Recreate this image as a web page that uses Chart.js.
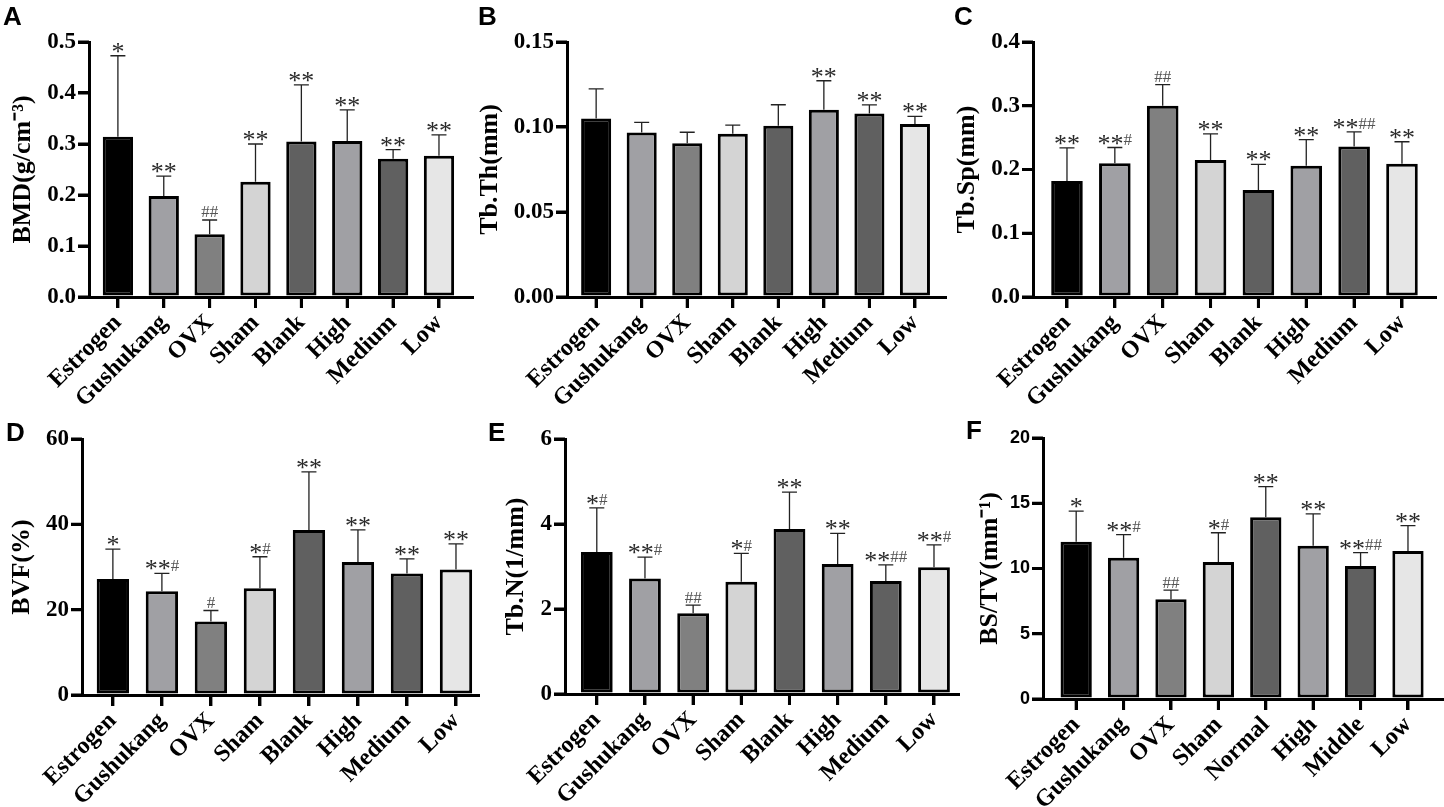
<!DOCTYPE html>
<html lang="en">
<head>
    <meta charset="UTF-8">
    <title>Micro-CT bone parameters</title>
    <script src="https://cdn.jsdelivr.net/npm/chart.js"></script>
    <style>
        * {
            margin: 0;
            padding: 0;
            box-sizing: border-box;
        }
        body {
            width: 1444px;
            height: 807px;
            background: #fff;
            position: relative;
            overflow: hidden;
        }
        .panel {
            position: absolute;
        }
        .letter {
            position: absolute;
            font-family: 'Liberation Sans', Arial, sans-serif;
            font-weight: bold;
            font-size: 26px;
            line-height: 1;
            color: #000;
            z-index: 2;
        }
    </style>
</head>
<body>
    <div class="letter" style="left:3px;top:3px">A</div>
    <div class="letter" style="left:478px;top:3px">B</div>
    <div class="letter" style="left:954px;top:3px">C</div>
    <div class="letter" style="left:6px;top:419px">D</div>
    <div class="letter" style="left:488px;top:419px">E</div>
    <div class="letter" style="left:966px;top:417px">F</div>

    <div class="panel" style="left:0;top:0;width:480px;height:410px"><canvas id="chartA"></canvas></div>
    <div class="panel" style="left:470px;top:0;width:480px;height:410px"><canvas id="chartB"></canvas></div>
    <div class="panel" style="left:950px;top:0;width:494px;height:410px"><canvas id="chartC"></canvas></div>
    <div class="panel" style="left:0;top:400px;width:480px;height:407px"><canvas id="chartD"></canvas></div>
    <div class="panel" style="left:470px;top:400px;width:490px;height:407px"><canvas id="chartE"></canvas></div>
    <div class="panel" style="left:950px;top:400px;width:494px;height:407px"><canvas id="chartF"></canvas></div>

    <script>
        // Группы
        const groups = ['Estrogen', 'Gushukang', 'OVX', 'Sham', 'Blank', 'High', 'Medium', 'Low'];
        const groupsF = ['Estrogen', 'Gushukang', 'OVX', 'Sham', 'Normal', 'High', 'Middle', 'Low'];

        // A - BMD
        const bmd = [0.314, 0.198, 0.123, 0.226, 0.305, 0.306, 0.271, 0.277];
        const bmdErr = [0.159, 0.039, 0.028, 0.074, 0.111, 0.061, 0.018, 0.041];
        const bmdNotes = ['*', '**', '##', '**', '**', '**', '**', '**'];
        const bmdTicks = [0, 0.1, 0.2, 0.3, 0.4, 0.5];

        // B - Tb.Th
        const tbTh = [0.105, 0.0967, 0.0904, 0.0961, 0.1008, 0.1102, 0.1080, 0.1018];
        const tbThErr = [0.0174, 0.006, 0.0065, 0.005, 0.0123, 0.017, 0.005, 0.0045];
        const tbThNotes = ['', '', '', '', '', '**', '**', '**'];
        const tbThTicks = [0, 0.05, 0.10, 0.15];

        // C - Tb.Sp
        const tbSp = [0.182, 0.210, 0.300, 0.215, 0.168, 0.206, 0.236, 0.209];
        const tbSpErr = [0.052, 0.0245, 0.033, 0.041, 0.040, 0.041, 0.023, 0.0345];
        const tbSpNotes = ['**', '**#', '##', '**', '**', '**', '**##', '**'];
        const tbSpTicks = [0, 0.1, 0.2, 0.3, 0.4];

        // D - BVF
        const bvf = [27.2, 24.3, 17.2, 25.0, 38.7, 31.2, 28.5, 29.4];
        const bvfErr = [7.0, 4.2, 2.6, 7.4, 13.6, 7.5, 3.4, 6.0];
        const bvfNotes = ['*', '**#', '#', '*#', '**', '**', '**', '**'];
        const bvfTicks = [0, 20, 40, 60];

        // E - Tb.N
        const tbN = [3.34, 2.72, 1.90, 2.64, 3.88, 3.06, 2.66, 2.98];
        const tbNErr = [1.04, 0.50, 0.19, 0.67, 0.87, 0.72, 0.38, 0.53];
        const tbNNotes = ['*#', '**#', '##', '*#', '**', '**', '**##', '**#'];
        const tbNTicks = [0, 2, 4, 6];

        // F - BS/TV
        const bsTv = [12.05, 10.83, 7.64, 10.5, 13.92, 11.75, 10.19, 11.34];
        const bsTvErr = [2.35, 1.77, 0.71, 2.24, 2.35, 2.43, 1.02, 1.94];
        const bsTvNotes = ['*', '**#', '##', '*#', '**', '**', '**##', '**'];
        const bsTvTicks = [0, 5, 10, 15, 20];

        const fills = ['#000000', '#a0a0a4', '#808080', '#d4d4d4', '#606060', '#a0a0a4', '#606060', '#e6e6e6'];
        const SERIF = "'Liberation Serif', 'Times New Roman', serif";
        const SANS = "'Liberation Sans', Arial, sans-serif";
        const TICK_LEN = 11;

        // Засечки осей
        function drawAxisTicks(chart) {
            const xs = chart.scales.x;
            const ys = chart.scales.y;
            const ctx = chart.ctx;
            ctx.save();
            ctx.strokeStyle = '#000';
            ctx.lineWidth = 3;
            ctx.lineCap = 'butt';
            ctx.beginPath();
            for (let i = 0; i < xs.ticks.length; i++) {
                const px = xs.getPixelForValue(xs.ticks[i].value);
                ctx.moveTo(px, xs.top);
                ctx.lineTo(px, xs.top + TICK_LEN);
            }
            for (let i = 0; i < ys.ticks.length; i++) {
                const py = ys.getPixelForValue(ys.ticks[i].value);
                ctx.moveTo(ys.right - TICK_LEN, py);
                ctx.lineTo(ys.right, py);
            }
            ctx.stroke();
            ctx.restore();
        }

        // Планки погрешностей и значки значимости
        const errorBarPlugin = {
            id: 'errorBars',
            afterDatasetsDraw(chart) {
                const ds = chart.data.datasets[0];
                const meta = chart.getDatasetMeta(0);
                const yScale = chart.scales.y;
                const ctx = chart.ctx;
                ctx.save();
                meta.data.forEach((bar, i) => {
                    const yTop = yScale.getPixelForValue(ds.data[i].y + ds.errors[i]);
                    ctx.strokeStyle = '#222';
                    ctx.lineWidth = 1.3;
                    ctx.beginPath();
                    ctx.moveTo(bar.x, bar.y);
                    ctx.lineTo(bar.x, yTop);
                    ctx.moveTo(bar.x - 7.5, yTop);
                    ctx.lineTo(bar.x + 7.5, yTop);
                    ctx.stroke();

                    const note = ds.notes[i];
                    if (!note) return;
                    const stars = note.replace(/#/g, '');
                    const hashes = note.replace(/\*/g, '');
                    ctx.font = '26px ' + SERIF;
                    const ws = ctx.measureText(stars).width;
                    ctx.font = '17px ' + SERIF;
                    const wh = ctx.measureText(hashes).width;
                    let x0 = bar.x - (ws + wh) / 2;
                    ctx.textAlign = 'left';
                    ctx.textBaseline = 'alphabetic';
                    if (stars) {
                        ctx.font = '26px ' + SERIF;
                        ctx.fillStyle = '#2a2a2a';
                        ctx.fillText(stars, x0, yTop + 4);
                        x0 += ws;
                    }
                    if (hashes) {
                        ctx.font = '17px ' + SERIF;
                        ctx.fillStyle = '#555';
                        ctx.fillText(hashes, x0, yTop - 2.5);
                    }
                });
                ctx.restore();
                drawAxisTicks(chart);
            }
        };

        function makeChart(id, cfg) {
            const ctx = document.getElementById(id).getContext('2d');
            return new Chart(ctx, {
                type: 'bar',
                data: {
                    datasets: [{
                        data: cfg.values.map((v, i) => ({ x: i, y: v })),
                        errors: cfg.errors,
                        notes: cfg.notes,
                        backgroundColor: fills,
                        borderColor: '#000',
                        borderWidth: 3,
                        borderSkipped: false,
                        barPercentage: 0.66,
                        categoryPercentage: 1
                    }]
                },
                options: {
                    responsive: true,
                    maintainAspectRatio: false,
                    animation: false,
                    layout: {
                        padding: { left: 0, top: cfg.padTop, right: cfg.padRight, bottom: 0 }
                    },
                    plugins: {
                        legend: { display: false },
                        tooltip: { enabled: false }
                    },
                    scales: {
                        x: {
                            type: 'linear',
                            min: cfg.xMin,
                            max: cfg.xMax,
                            offset: false,
                            afterBuildTicks: s => { s.ticks = cfg.labels.map((_, i) => ({ value: i })); },
                            afterFit: s => { s.height = cfg.xHeight; },
                            grid: {
                                offset: false,
                                drawOnChartArea: false,
                                drawTicks: true,
                                tickLength: TICK_LEN,
                                lineWidth: 3,
                                color: '#000'
                            },
                            border: { display: true, width: 3, color: '#000' },
                            ticks: {
                                autoSkip: false,
                                minRotation: 45,
                                maxRotation: 45,
                                padding: 1,
                                color: '#000',
                                font: { family: SERIF, size: 24, weight: 'bold' },
                                callback: v => cfg.labels[v]
                            }
                        },
                        y: {
                            min: 0,
                            max: cfg.yTicks[cfg.yTicks.length - 1],
                            afterBuildTicks: s => { s.ticks = cfg.yTicks.map(v => ({ value: v })); },
                            afterFit: s => { s.width = cfg.yWidth; },
                            grid: {
                                drawOnChartArea: false,
                                drawTicks: true,
                                tickLength: TICK_LEN,
                                lineWidth: 3,
                                color: '#000'
                            },
                            border: { display: true, width: 3, color: '#000' },
                            ticks: {
                                padding: 2,
                                color: '#000',
                                font: cfg.tickFont,
                                callback: v => v.toFixed(cfg.decimals)
                            },
                            title: {
                                display: true,
                                text: cfg.title,
                                color: '#000',
                                padding: { top: cfg.titlePad, bottom: 0 },
                                font: { family: SERIF, size: 26, weight: 'bold', lineHeight: 1.2 }
                            }
                        }
                    }
                },
                plugins: [errorBarPlugin]
            });
        }

        const serifTicks = { family: SERIF, size: 23, weight: 'bold' };

        makeChart('chartA', {
            labels: groups, values: bmd, errors: bmdErr, notes: bmdNotes,
            yTicks: bmdTicks, decimals: 1, title: 'BMD(g/cm⁻³)', tickFont: serifTicks,
            padTop: 42, padRight: 8, yWidth: 89, xHeight: 113, titlePad: 7.4,
            xMin: -0.63, xMax: 7.72
        });
        makeChart('chartB', {
            labels: groups, values: tbTh, errors: tbThErr, notes: tbThNotes,
            yTicks: tbThTicks, decimals: 2, title: 'Tb.Th(mm)', tickFont: serifTicks,
            padTop: 42, padRight: 5, yWidth: 97, xHeight: 113, titlePad: 4.4,
            xMin: -0.64, xMax: 7.66
        });
        makeChart('chartC', {
            labels: groups, values: tbSp, errors: tbSpErr, notes: tbSpNotes,
            yTicks: tbSpTicks, decimals: 1, title: 'Tb.Sp(mm)', tickFont: serifTicks,
            padTop: 42, padRight: 9, yWidth: 83, xHeight: 113, titlePad: 1.4,
            xMin: -0.71, xMax: 7.69
        });
        makeChart('chartD', {
            labels: groups, values: bvf, errors: bvfErr, notes: bvfNotes,
            yTicks: bvfTicks, decimals: 0, title: 'BVF(%)', tickFont: serifTicks,
            padTop: 39, padRight: 0, yWidth: 82, xHeight: 112, titlePad: 6.4,
            xMin: -0.63, xMax: 7.49
        });
        makeChart('chartE', {
            labels: groups, values: tbN, errors: tbNErr, notes: tbNNotes,
            yTicks: tbNTicks, decimals: 0, title: 'Tb.N(1/mm)', tickFont: serifTicks,
            padTop: 39, padRight: 0, yWidth: 95, xHeight: 113, titlePad: 30.4,
            xMin: -0.66, xMax: 7.54
        });
        makeChart('chartF', {
            labels: groupsF, values: bsTv, errors: bsTvErr, notes: bsTvNotes,
            yTicks: bsTvTicks, decimals: 0, title: 'BS/TV(mm⁻¹)',
            tickFont: { family: SANS, size: 18, weight: 'bold' },
            padTop: 38, padRight: 0, yWidth: 93, xHeight: 108, titlePad: 24.4,
            xMin: -0.70, xMax: 7.76
        });
    </script>
</body>
</html>
